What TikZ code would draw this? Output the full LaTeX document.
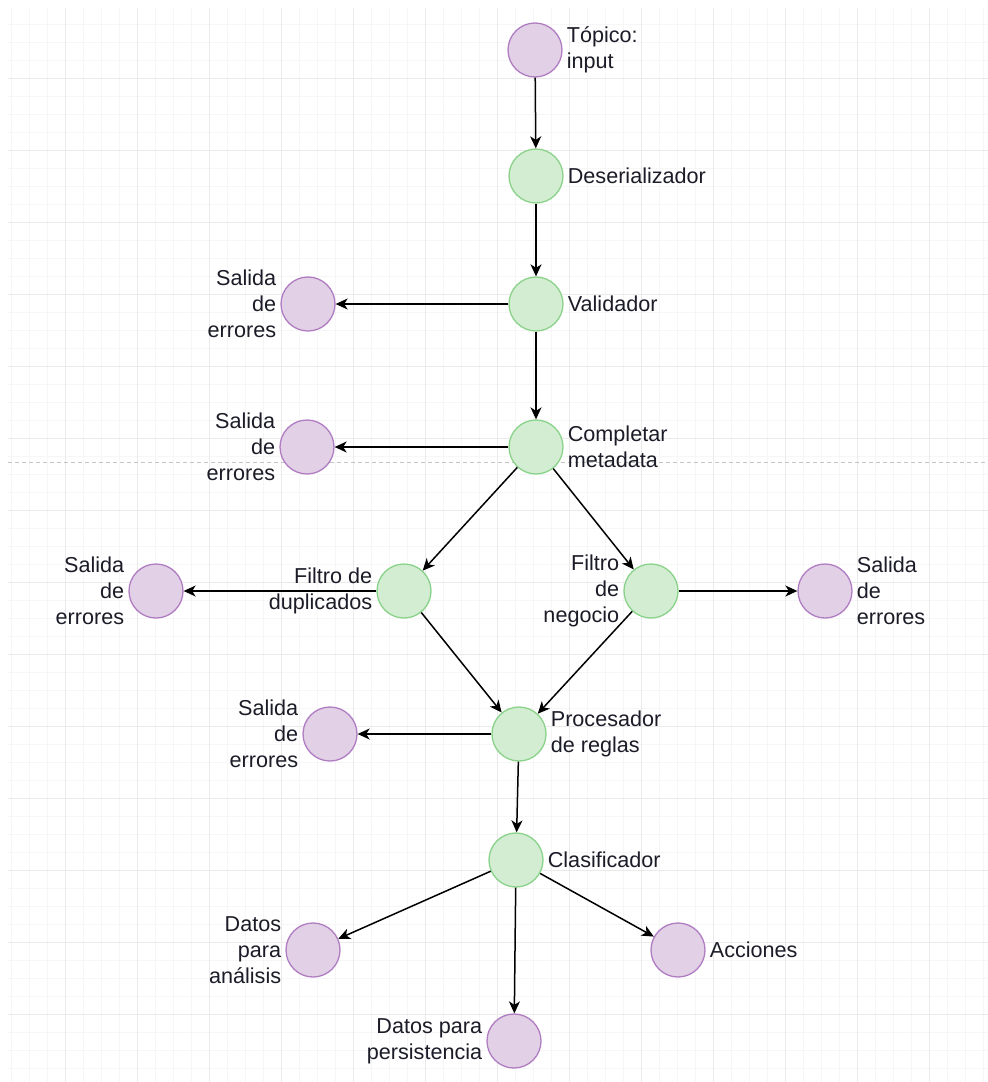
\documentclass[tikz,border=0pt]{standalone}
\usepackage{fontspec}
\setmainfont{Liberation Sans}
\usetikzlibrary{arrows.meta}
\definecolor{gridminor}{HTML}{F6F6F6}
\definecolor{gridmajor}{HTML}{EAEAEA}
\definecolor{sepline}{HTML}{C4C4C4}
\definecolor{pfill}{HTML}{E1D0E6}
\definecolor{pdraw}{HTML}{B07CC2}
\definecolor{gfill}{HTML}{D2EDD2}
\definecolor{gdraw}{HTML}{8AD28A}
\definecolor{txt}{HTML}{1C1C28}
\begin{document}
\begin{tikzpicture}[x=1pt,y=-1pt,
  every node/.style={font=\fontsize{21.6}{26}\selectfont, text=txt},
  topic/.style={circle, minimum size=54pt, inner sep=0pt, draw=pdraw, fill=pfill, line width=1.3pt},
  stage/.style={circle, minimum size=54pt, inner sep=0pt, draw=gdraw, fill=gfill, line width=1.3pt},
  lblR/.style={anchor=west, align=left, inner sep=0pt, xshift=4pt},
  lblL/.style={anchor=east, align=right, inner sep=0pt, xshift=-4pt},
  flow/.style={-{Stealth[length=12pt,width=11pt,inset=3.5pt]}, line width=1.5pt, black},
  gminor/.style={gridminor, line width=1pt},
  gmajor/.style={gridmajor, line width=1pt}]
\useasboundingbox (0,0) rectangle (988,1082);
\fill[white] (0,0) rectangle (988,1082);

% background grid
\begin{scope}
\clip (8,8) rectangle (988,1082);
\foreach \x in {11,29,...,988} \draw[gminor] (\x,8) -- (\x,1082);
\foreach \y in {6,24,...,1082} \draw[gminor] (8,\y) -- (988,\y);
\foreach \x in {65,137,...,988} \draw[gmajor] (\x,8) -- (\x,1082);
\foreach \y in {6,78,...,1082} \draw[gmajor] (8,\y) -- (988,\y);
\end{scope}

% separator
\coordinate (sepA) at (8,462);
\coordinate (sepB) at (988,462);
\draw[sepline, line width=1pt, dash pattern=on 4pt off 3pt] (sepA) -- (sepB);

% nodes
\node[topic] (top)  at (535,50)  {};
\node[stage] (des)  at (536,176) {};
\node[stage] (val)  at (536,304) {};
\node[topic] (vsal) at (308,304) {};
\node[stage] (comp) at (536,447) {};
\node[topic] (csal) at (307,447) {};
\node[stage] (fdup) at (404,591) {};
\node[topic] (fsal) at (156,591) {};
\node[stage] (fneg) at (651,591) {};
\node[topic] (nsal) at (825,591) {};
\node[stage] (proc) at (519,734) {};
\node[topic] (psal) at (330,734) {};
\node[stage] (clas) at (516,860) {};
\node[topic] (dana) at (313,950) {};
\node[topic] (acc)  at (678,950) {};
\node[topic] (pers) at (514,1041) {};

% labels
\node[lblR] (topL)  at (top.east)  {Tópico:\\input};
\node[lblR] (desL)  at (des.east)  {Deserializador};
\node[lblR] (valL)  at (val.east)  {Validador};
\node[lblL] (vsalL) at (vsal.west) {Salida\\de\\errores};
\node[lblR] (compL) at (comp.east) {Completar\\metadata};
\node[lblL] (csalL) at (csal.west) {Salida\\de\\errores};
\node[lblL] (fdupL) at (fdup.west) {Filtro de\\duplicados};
\node[lblL] (fsalL) at (fsal.west) {Salida\\de\\errores};
\node[lblL] (fnegL) at (fneg.west) {Filtro\\de\\negocio};
\node[lblR] (nsalL) at (nsal.east) {Salida\\de\\errores};
\node[lblR] (procL) at (proc.east) {Procesador\\de reglas};
\node[lblL] (psalL) at (psal.west) {Salida\\de\\errores};
\node[lblR] (clasL) at (clas.east) {Clasificador};
\node[lblL] (danaL) at (dana.west) {Datos\\para\\análisis};
\node[lblR] (accL)  at (acc.east)  {Acciones};
\node[lblL] (persL) at (pers.west) {Datos para\\persistencia};

% connectors
\draw[flow] (top) -- (des);
\draw[flow] (des) -- (val);
\draw[flow] (val) -- (vsal);
\draw[flow] (val) -- (comp);
\draw[flow] (comp) -- (csal);
\draw[flow] (comp) -- (fdup);
\draw[flow] (comp) -- (fneg);
\draw[flow] (fdup) -- (fsal);
\draw[flow] (fneg) -- (nsal);
\draw[flow] (fdup) -- (proc);
\draw[flow] (fneg) -- (proc);
\draw[flow] (proc) -- (psal);
\draw[flow] (proc) -- (clas);
\draw[flow] (clas) -- (dana);
\draw[flow] (clas) -- (pers);
\draw[flow] (clas) -- (acc);
\end{tikzpicture}
\end{document}
